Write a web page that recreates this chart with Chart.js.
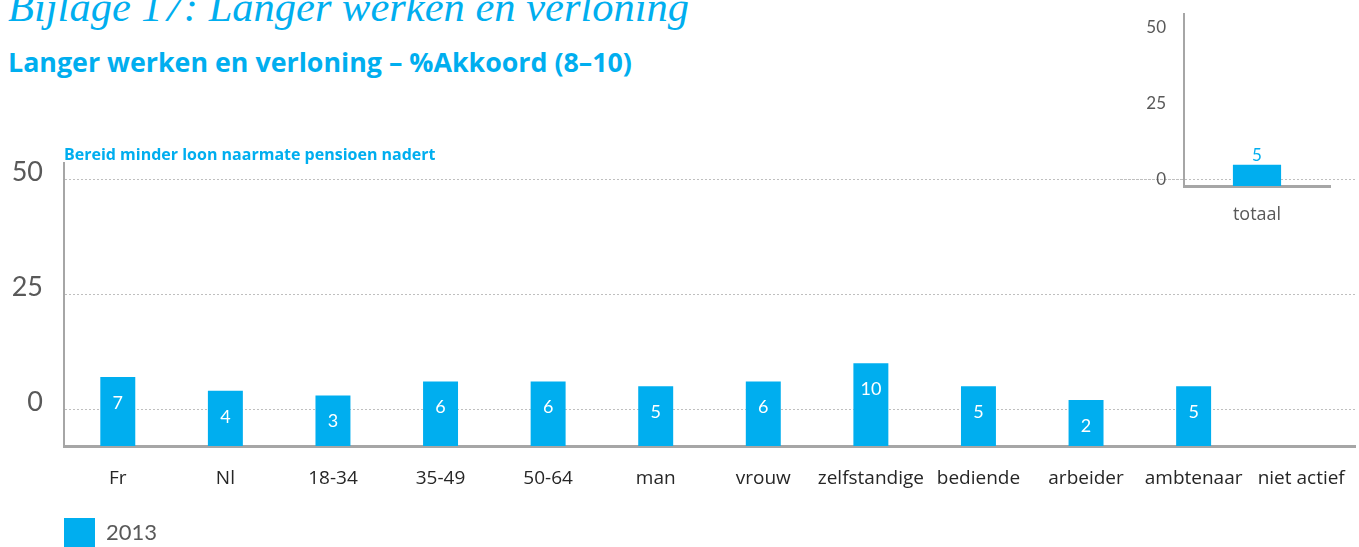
<!doctype html>
<html>
  <head>
    <title>Langer werken en verloning</title>
    <script src="https://cdn.jsdelivr.net/npm/chart.js@4.4.1/dist/chart.umd.min.js"></script>
    <style>
      body { margin: 0; width: 1359px; height: 547px; overflow: hidden; background: #fff; position: relative; }
      .kop { position: absolute; left: 8px; margin: 0; color: #00aeef; white-space: nowrap; }
      h1.kop { top: -14px; font: italic 400 42.5px/42.5px "Liberation Serif", serif; }
      h2.kop { top: 47px; font: 700 26.8px/30px "Open Sans", sans-serif; }
    </style>
  </head>
  <body>
    <h1 class="kop">Bijlage 17: Langer werken en verloning</h1>
    <h2 class="kop">Langer werken en verloning – %Akkoord (8–10)</h2>
    <div style="position: absolute; left: 0; top: 0; width: 1359px; height: 558px;">
      <canvas id="main"></canvas>
    </div>
    <div style="position: absolute; left: 1120px; top: 0; width: 239px; height: 240px;">
      <canvas id="totaal"></canvas>
    </div>
  </body>
  <script>
    const categories = ['Fr', 'Nl', '18-34', '35-49', '50-64', 'man', 'vrouw', 'zelfstandige', 'bediende', 'arbeider', 'ambtenaar', 'niet actief'];
    const values2013 = [7, 4, 3, 6, 6, 5, 6, 10, 5, 2, 5, null];
    const totalLabels = ['totaal'];
    const totalValues = [5];
    const yTicks = [0, 25, 50];

    const blue = '#00aeef';
    const axisGrey = '#a6a6a6';
    const gridGrey = '#bfbfbf';

    // writes the value of each bar, offset from the bar top
    const valueLabels = {
      id: 'valueLabels',
      afterDatasetsDraw(chart, args, opts) {
        const ctx = chart.ctx;
        const meta = chart.getDatasetMeta(0);
        const data = chart.data.datasets[0].data;
        ctx.save();
        ctx.fillStyle = opts.color;
        ctx.font = opts.font;
        ctx.textAlign = 'center';
        ctx.textBaseline = 'middle';
        meta.data.forEach((bar, i) => {
          if (data[i] == null) return;
          ctx.fillText(String(data[i]), bar.x, bar.y + opts.offset);
        });
        ctx.restore();
      }
    };

    const mainChart = new Chart(document.getElementById('main'), {
      type: 'bar',
      data: {
        labels: categories,
        datasets: [{
          label: '2013',
          data: values2013,
          base: -8,
          backgroundColor: blue,
          borderWidth: 0,
          categoryPercentage: 1,
          barPercentage: 0.325,
        }]
      },
      plugins: [valueLabels],
      options: {
        responsive: true,
        maintainAspectRatio: false,
        animation: false,
        layout: { padding: { top: 147, right: 4, bottom: 0, left: 0 } },
        plugins: {
          title: {
            display: true,
            text: 'Bereid minder loon naarmate pensioen nadert',
            align: 'start',
            fullSize: false,
            color: blue,
            font: { family: 'Open Sans', size: 16, weight: 'bold', lineHeight: 1 },
            padding: 0
          },
          legend: {
            position: 'bottom',
            align: 'start',
            fullSize: false,
            labels: { boxWidth: 31, boxHeight: 30, padding: 0, color: '#595959', font: { family: 'Lato', size: 22 } }
          },
          tooltip: { enabled: false },
          valueLabels: { color: '#ffffff', font: '18px Lato', offset: 26 }
        },
        scales: {
          x: {
            grid: { display: false, drawTicks: false },
            border: { color: axisGrey, width: 3 },
            ticks: { color: '#262626', font: { family: 'Open Sans', size: 19 }, padding: 21, maxRotation: 0, autoSkip: false },
            afterFit: (scale) => { scale.height = 72; scale.paddingLeft = 0; scale.paddingRight = 0; }
          },
          y: {
            min: -8,
            max: 53.5,
            afterBuildTicks: (scale) => { scale.ticks = yTicks.map(v => ({ value: v })); },
            grid: { color: gridGrey, lineWidth: 1, drawTicks: false },
            border: { color: axisGrey, width: 2, dash: [2, 2] },
            ticks: { color: '#595959', font: { family: 'Lato', size: 27 }, padding: 21, labelOffset: -7 },
            afterFit: (scale) => { scale.width = 64; }
          }
        }
      }
    });

    const totalChart = new Chart(document.getElementById('totaal'), {
      type: 'bar',
      data: {
        labels: totalLabels,
        datasets: [{
          label: '2013',
          data: totalValues,
          base: -2,
          backgroundColor: blue,
          borderWidth: 0,
          categoryPercentage: 1,
          barPercentage: 0.33,
        }]
      },
      plugins: [valueLabels],
      options: {
        responsive: true,
        maintainAspectRatio: false,
        animation: false,
        layout: { padding: { top: 14, right: 29, bottom: 0, left: 0 } },
        plugins: {
          legend: { display: false },
          tooltip: { enabled: false },
          valueLabels: { color: blue, font: '17px Lato', offset: -9 }
        },
        scales: {
          x: {
            grid: { display: false, drawTicks: false },
            border: { color: axisGrey, width: 3 },
            ticks: { color: '#595959', font: { family: 'Open Sans', size: 18 }, padding: 18 },
            afterFit: (scale) => { scale.height = 54; }
          },
          y: {
            min: -2,
            max: 54.6,
            afterBuildTicks: (scale) => { scale.ticks = yTicks.map(v => ({ value: v })); },
            grid: {
              color: (c) => c.tick && c.tick.value === 0 ? gridGrey : 'rgba(0,0,0,0)',
              tickColor: (c) => c.tick && c.tick.value === 0 ? gridGrey : 'rgba(0,0,0,0)',
              tickLength: 64,
              tickBorderDash: [2, 2]
            },
            border: { color: axisGrey, width: 2, dash: [2, 2] },
            ticks: { color: '#595959', font: { family: 'Lato', size: 17 }, padding: -46 },
            afterFit: (scale) => { scale.width = 64; }
          }
        }
      }
    });
  </script>
</html>
